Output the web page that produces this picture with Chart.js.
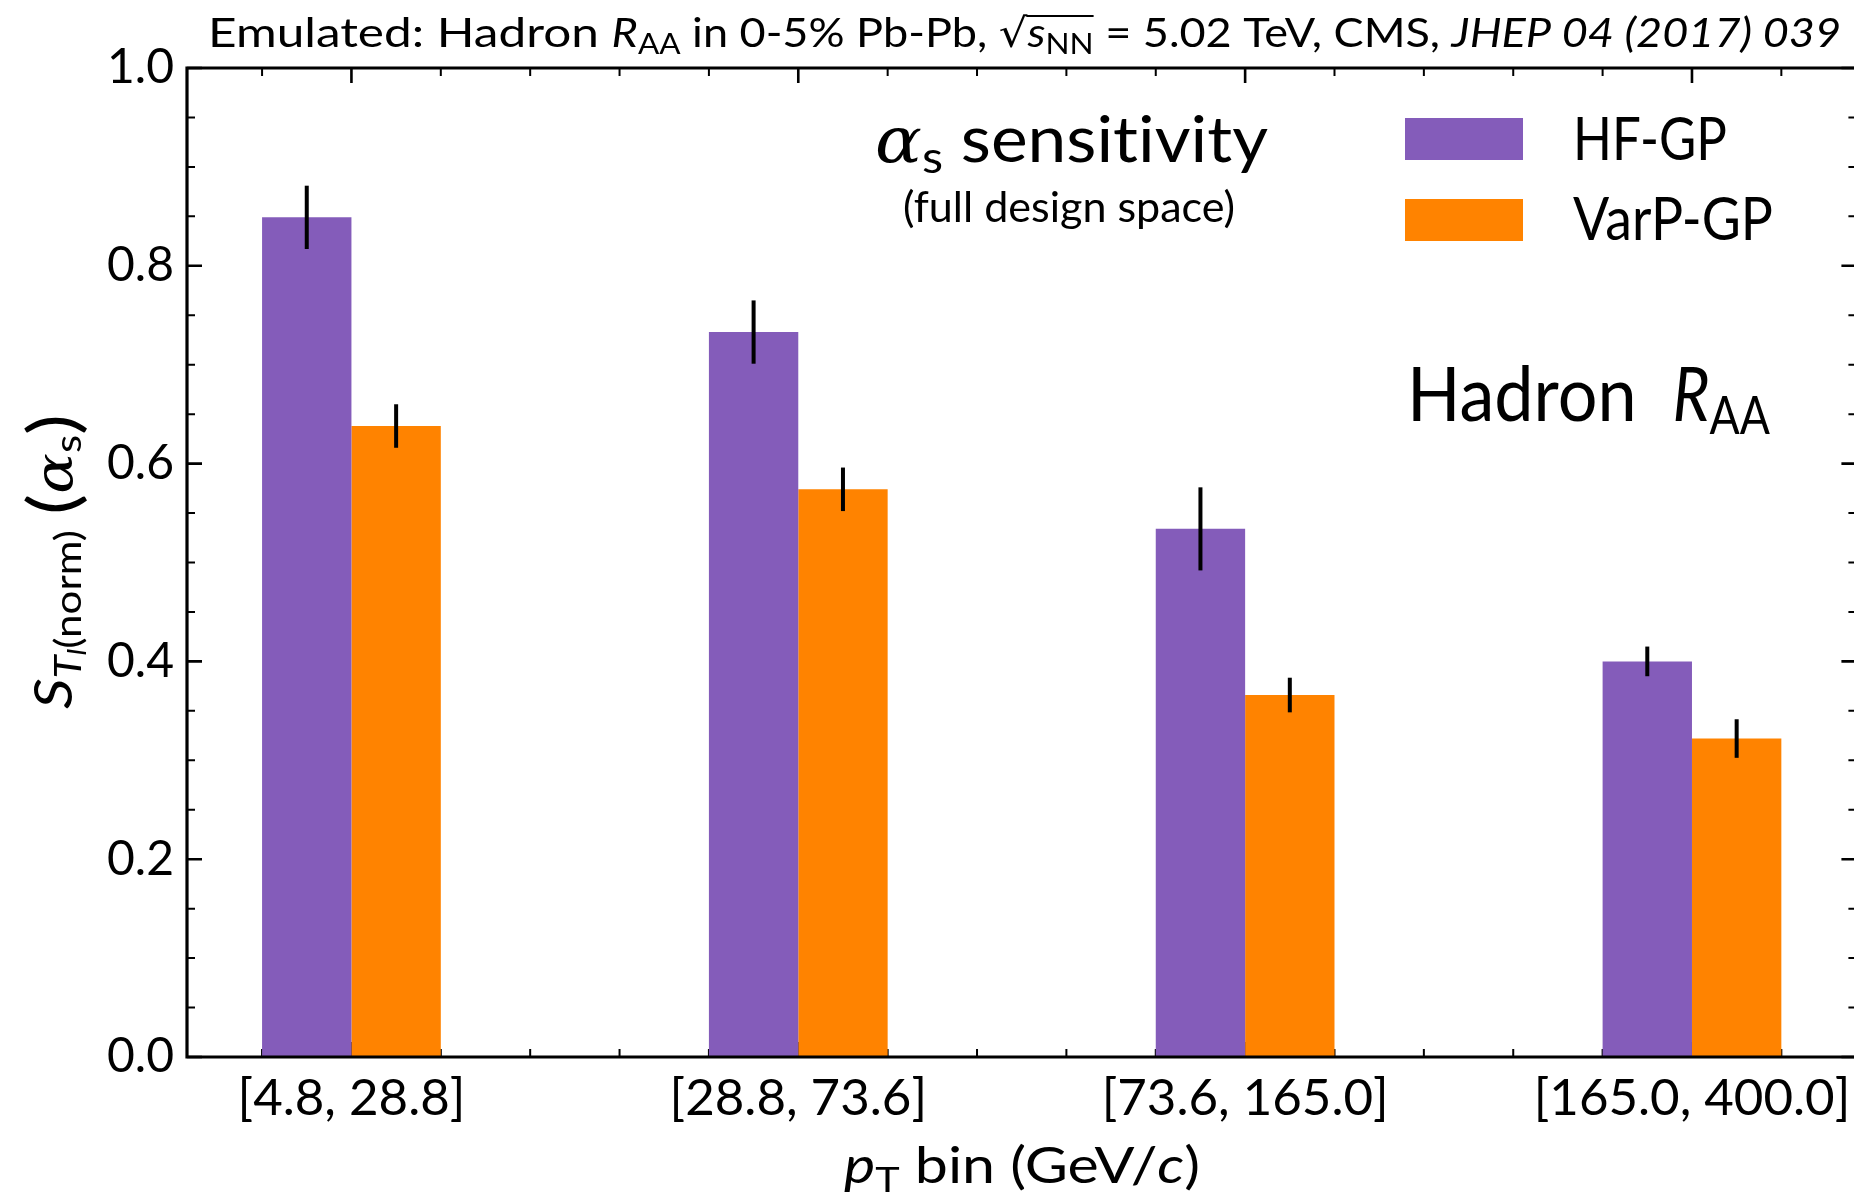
<!DOCTYPE html>
<html><head><meta charset="utf-8">
<script src="https://cdn.jsdelivr.net/npm/chart.js@4.4.1/dist/chart.umd.min.js"></script>
<style>html,body{margin:0;padding:0;background:#fff;overflow:hidden}#wrap{width:1854px;height:1199px;position:relative}</style>
</head><body><div id="wrap"><canvas id="c" width="1854" height="1199"></canvas></div>
<script>
// ---- data ----
const categories = ['[4.8, 28.8]', '[28.8, 73.6]', '[73.6, 165.0]', '[165.0, 400.0]'];
const binPositions = [0, 1, 2, 3];
const seriesLabels = ['HF-GP', 'VarP-GP'];
const hfValues = [0.849, 0.733, 0.534, 0.400];
const hfErrors = [0.032, 0.032, 0.042, 0.015];
const varpValues = [0.638, 0.574, 0.366, 0.322];
const varpErrors = [0.022, 0.022, 0.0175, 0.0195];
const yTickValues = [0.0, 0.2, 0.4, 0.6, 0.8, 1.0];

// ---- styles ----
const FAM = 'Lato, "DejaVu Sans", sans-serif';
const SERIF = '"DejaVu Serif", "Liberation Serif", serif';
const PURPLE = '#845cba';
const ORANGE = '#ff8300';
const X_MIN = -0.368, X_MAX = 3.3626, X_SPINE = 3.368;

function segFont(seg, base) {
  const lvl = seg.sub || 0;
  const s = base * Math.pow(0.7, lvl) * (seg.big || 1);
  return { size: s, font: (seg.it ? 'italic ' : '') + s.toFixed(2) + 'px ' + (seg.fam || FAM) };
}
function layoutRich(ctx, segs, size) {
  let x = 0; const items = [];
  for (const seg of segs) {
    const f = segFont(seg, size);
    ctx.font = f.font;
    const w = ctx.measureText(seg.t).width * (seg.sx || 1);
    let dy = 0;
    if ((seg.sub || 0) >= 1) dy += 0.17 * size;
    if ((seg.sub || 0) >= 2) dy += 0.10 * size;
    if (seg.big) dy += (seg.big - 1) * 0.3 * size;
    items.push({ seg, font: f.font, x, w, dy });
    x += w;
  }
  return { items, width: x };
}
function drawRich(ctx, segs, o) {
  ctx.save();
  try { ctx.textRendering = 'optimizeSpeed'; } catch (e) {}
  const L = layoutRich(ctx, segs, o.size);
  const sx = o.width ? o.width / L.width : 1;
  ctx.translate(o.x, o.y);
  if (o.rot) ctx.rotate(o.rot);
  ctx.scale(sx, 1);
  if (o.align === 'center') ctx.translate(-L.width / 2, 0);
  ctx.fillStyle = '#000'; ctx.textBaseline = 'alphabetic'; ctx.textAlign = 'left';
  let ox0 = null, ox1 = null;
  for (const it of L.items) {
    ctx.font = it.font;
    ctx.save();
    ctx.translate(it.x, it.dy);
    if (it.seg.sx) ctx.scale(it.seg.sx, 1);
    ctx.fillText(it.seg.t, 0, 0);
    ctx.restore();
    if (it.seg.over) { if (ox0 === null) ox0 = it.x; ox1 = it.x + it.w; }
  }
  if (ox0 !== null) ctx.fillRect(ox0 - 1, -0.80 * o.size, ox1 - ox0 + 1, 0.05 * o.size);
  ctx.restore();
}

const decorPlugin = {
  id: 'decor',
  beforeDatasetsDraw(chart) {
    const ctx = chart.ctx, xs = chart.scales.x, ys = chart.scales.y, a = chart.chartArea;
    const right = xs.getPixelForValue(X_SPINE);
    ctx.save();
    ctx.strokeStyle = '#000';
    for (let k = 0; k <= 20; k++) {
      const py = ys.getPixelForValue(k * 0.05);
      const major = k % 4 === 0; const len = major ? 15 : 8;
      ctx.lineWidth = major ? 2.6 : 2;
      ctx.beginPath();
      ctx.moveTo(a.left, py); ctx.lineTo(a.left + len, py);
      ctx.moveTo(right, py); ctx.lineTo(right - len, py);
      ctx.stroke();
    }
    for (let k = -1; k <= 16; k++) {
      const px = xs.getPixelForValue(k * 0.2);
      const major = k % 5 === 0; const len = major ? 15 : 8;
      ctx.lineWidth = major ? 2.6 : 2;
      ctx.beginPath();
      ctx.moveTo(px, a.bottom); ctx.lineTo(px, a.bottom - len);
      ctx.moveTo(px, a.top); ctx.lineTo(px, a.top + len);
      ctx.stroke();
    }
    ctx.restore();
  },
  afterDatasetsDraw(chart) {
    const ctx = chart.ctx, xs = chart.scales.x, ys = chart.scales.y, a = chart.chartArea;
    ctx.save();
    // error bars
    ctx.strokeStyle = '#000'; ctx.lineWidth = 4; ctx.lineCap = 'butt';
    chart.data.datasets.forEach((ds, di) => {
      const meta = chart.getDatasetMeta(di);
      meta.data.forEach((bar, i) => {
        const v = ds.data[i].y, e = ds.errors[i];
        ctx.beginPath();
        ctx.moveTo(bar.x, ys.getPixelForValue(v - e));
        ctx.lineTo(bar.x, ys.getPixelForValue(v + e));
        ctx.stroke();
      });
    });
    // spines
    const right = xs.getPixelForValue(X_SPINE);
    ctx.lineWidth = 3.2; ctx.lineCap = 'square';
    ctx.beginPath();
    ctx.moveTo(a.left, a.top); ctx.lineTo(right, a.top);
    ctx.moveTo(a.left, a.top); ctx.lineTo(a.left, a.bottom);
    ctx.moveTo(a.left, a.bottom); ctx.lineTo(right, a.bottom);
    ctx.moveTo(right, a.top); ctx.lineTo(right, a.bottom);
    ctx.stroke();
    ctx.restore();
  },
  afterDraw(chart) {
    const ctx = chart.ctx;
    // title
    drawRich(ctx, [
      { t: 'Emulated: Hadron ', sx: 1.1 }, { t: 'R', it: 1 }, { t: 'AA', sub: 1 },
      { t: ' in 0-5% Pb-Pb, ' }, { t: '√', fam: '"DejaVu Sans", sans-serif' },
      { t: 's', it: 1, over: 1 }, { t: 'NN', sub: 1, over: 1 },
      { t: ' = 5.02 TeV, CMS, ' }, { t: 'JHEP 04 (2017) 039', it: 1 }
    ], { x: 208, y: 47, size: 40, width: 1633 });
    // x axis title
    drawRich(ctx, [
      { t: 'p', it: 1 }, { t: 'T', sub: 1 }, { t: ' bin (GeV/' }, { t: 'c', it: 1 }, { t: ')' }
    ], { x: 844, y: 1183, size: 50, width: 356 });
    // y axis title
    drawRich(ctx, [
      { t: 'S', it: 1 }, { t: 'T', it: 1, sub: 1 }, { t: 'l', it: 1, sub: 2 }, { t: '(norm)', sub: 1 },
      { t: ' ' }, { t: '(', big: 1.3 }, { t: 'α', it: 1, fam: SERIF }, { t: 's', sub: 1 }, { t: ')', big: 1.3 }
    ], { x: 72, y: 709, size: 52, width: 295, rot: -Math.PI / 2 });
    // annotations
    drawRich(ctx, [{ t: 'α', it: 1, fam: SERIF }, { t: 's', sub: 1 }, { t: ' sensitivity' }],
      { x: 875, y: 162, size: 64, width: 393 });
    drawRich(ctx, [{ t: '(full design space)' }], { x: 903, y: 222, size: 42, width: 332 });
    drawRich(ctx, [{ t: 'Hadron', sx: 1.1 }, { t: ' ', sx: 2.2 }, { t: 'R', it: 1 }, { t: 'AA', sub: 1 }],
      { x: 1407, y: 421, size: 76, width: 363 });
    // legend
    const legendRows = [{ top: 118, base: 160, w: 154 }, { top: 199, base: 240, w: 200 }];
    chart.data.datasets.forEach((ds, i) => {
      const r = legendRows[i];
      ctx.fillStyle = ds.backgroundColor;
      ctx.fillRect(1405, r.top, 118, 42);
      drawRich(ctx, [{ t: ds.label }], { x: 1573, y: r.base, size: 60, width: r.w });
    });
  }
};

const toPoints = (vals) => vals.map((v, i) => ({ x: binPositions[i], y: v }));

new Chart(document.getElementById('c'), {
  type: 'bar',
  data: {
    datasets: [
      { label: seriesLabels[0], data: toPoints(hfValues), errors: hfErrors, backgroundColor: PURPLE, borderWidth: 0 },
      { label: seriesLabels[1], data: toPoints(varpValues), errors: varpErrors, backgroundColor: ORANGE, borderWidth: 0 }
    ]
  },
  options: {
    responsive: false, animation: false, devicePixelRatio: 1,
    barPercentage: 1.0, categoryPercentage: 0.4,
    layout: { padding: { top: 68, left: 0, right: 0, bottom: 0 } },
    plugins: { legend: { display: false }, tooltip: { enabled: false }, title: { display: false } },
    scales: {
      x: {
        type: 'linear', min: X_MIN, max: X_MAX, offset: false, bounds: 'data',
        grid: { display: false, drawTicks: false, offset: false }, border: { display: false },
        afterBuildTicks: (s) => { s.ticks = binPositions.map(v => ({ value: v })); },
        afterFit: (s) => { s.height = 142; s.paddingLeft = 0; s.paddingRight = 0; },
        ticks: {
          autoSkip: false, maxRotation: 0, minRotation: 0, padding: 11, color: '#000',
          font: { family: FAM, size: 51 },
          callback: (v) => categories[binPositions.indexOf(v)]
        }
      },
      y: {
        min: 0, max: 1, bounds: 'data',
        grid: { display: false, drawTicks: false }, border: { display: false },
        afterBuildTicks: (s) => { s.ticks = yTickValues.map(v => ({ value: v })); },
        afterFit: (s) => { s.width = 187; s.paddingTop = 0; s.paddingBottom = 0; },
        ticks: {
          padding: 13, color: '#000', font: { family: FAM, size: 48 },
          callback: (v) => Number(v).toFixed(1)
        }
      }
    }
  },
  plugins: [decorPlugin]
});
</script>
</body></html>
